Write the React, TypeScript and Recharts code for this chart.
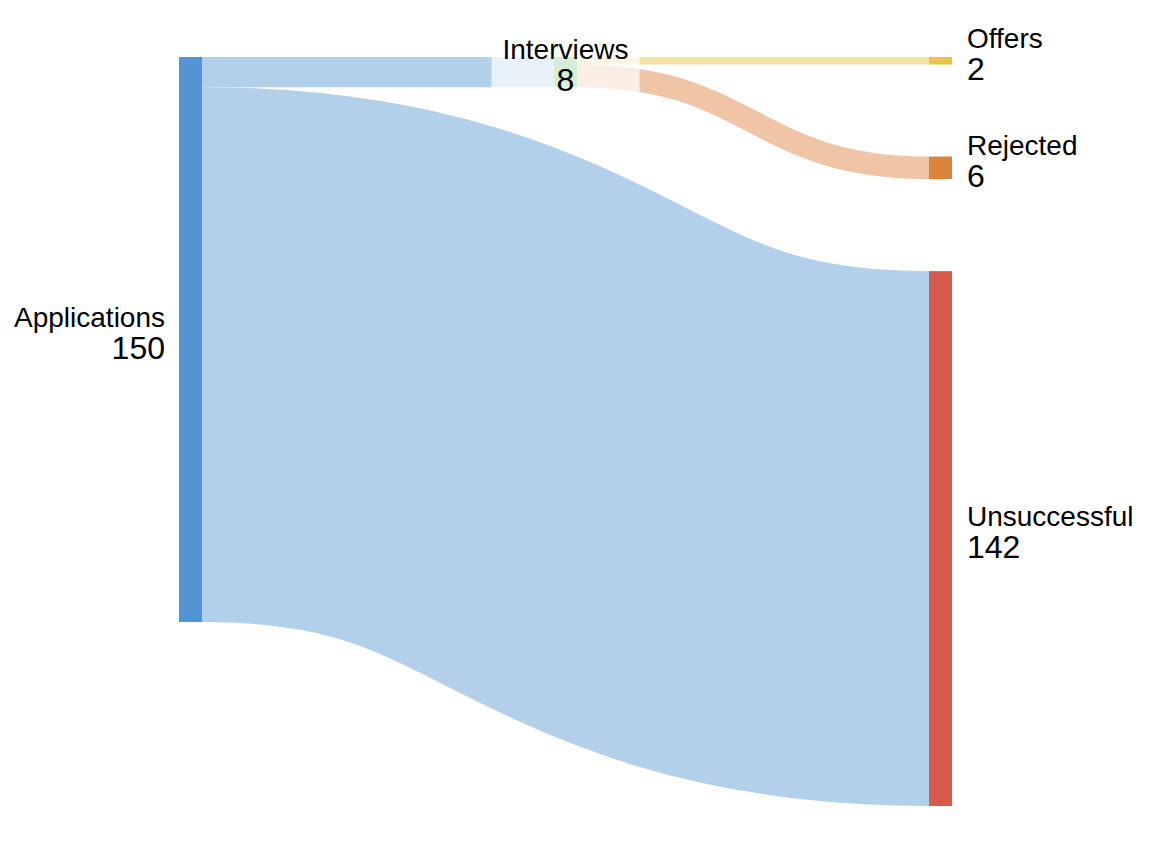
import React from 'react';
import { Sankey } from 'recharts';

// job search funnel
const nodeNames = ['Applications', 'Interviews', 'Offers', 'Rejected', 'Unsuccessful'];
const nodeColors = ['#5294d4', '#74c476', '#e8c44a', '#d8843e', '#d55a4a'];

const linkSources = [0, 0, 1, 1];
const linkTargets = [1, 4, 2, 3];
const linkValues = [8, 142, 2, 6];
const linkColors = ['#b3d0ea', '#b3d0ea', '#f3e3a6', '#efc5a5'];

const data = {
  nodes: nodeNames.map((name, i) => ({ name, color: nodeColors[i] })),
  links: linkValues.map((value, i) => ({
    source: linkSources[i],
    target: linkTargets[i],
    value,
    color: linkColors[i],
  })),
};

const FONT = '"Liberation Sans", Arial, Helvetica, sans-serif';

const SankeyLink = (props: any) => {
  const { sourceX, targetX, sourceY, targetY, sourceControlX, targetControlX, linkWidth, payload } = props;
  return (
    <path
      d={`M${sourceX},${sourceY}C${sourceControlX},${sourceY} ${targetControlX},${targetY} ${targetX},${targetY}`}
      fill="none"
      stroke={payload.color}
      strokeWidth={linkWidth}
    />
  );
};

const SankeyNode = (props: any) => {
  const { x, y, width, height, index, payload } = props;
  const cx = x + width / 2;
  const cy = y + height / 2;
  const hasIn = linkTargets.includes(index);
  const hasOut = linkSources.includes(index);

  let anchor: 'start' | 'end' | 'middle' = 'middle';
  let tx = cx;
  if (!hasIn) {
    anchor = 'end';
    tx = x - 14;
  } else if (!hasOut) {
    anchor = 'start';
    tx = x + width + 15;
  }

  return (
    <g>
      <rect x={x} y={y} width={width} height={height} fill={payload.color} />
      {hasIn && hasOut && (
        <rect x={cx - 74} y={cy - 42} width={148} height={80} fill="#fff" fillOpacity={0.7} />
      )}
      <text x={tx} y={cy - 13} textAnchor={anchor} fontFamily={FONT} fontSize={28} fill="#000">
        {payload.name}
      </text>
      <text x={tx} y={cy + 19} textAnchor={anchor} fontFamily={FONT} fontSize={32} fill="#000">
        {payload.value}
      </text>
    </g>
  );
};

export default function App() {
  return (
    <div style={{ width: 1145, height: 835 }}>
      <Sankey
        width={1145}
        height={835}
        data={data}
        nodeWidth={23}
        nodePadding={92}
        sort={false}
        iterations={0}
        margin={{ top: 49, right: 201, bottom: 37, left: 171 }}
        node={<SankeyNode />}
        link={<SankeyLink />}
      />
    </div>
  );
}
